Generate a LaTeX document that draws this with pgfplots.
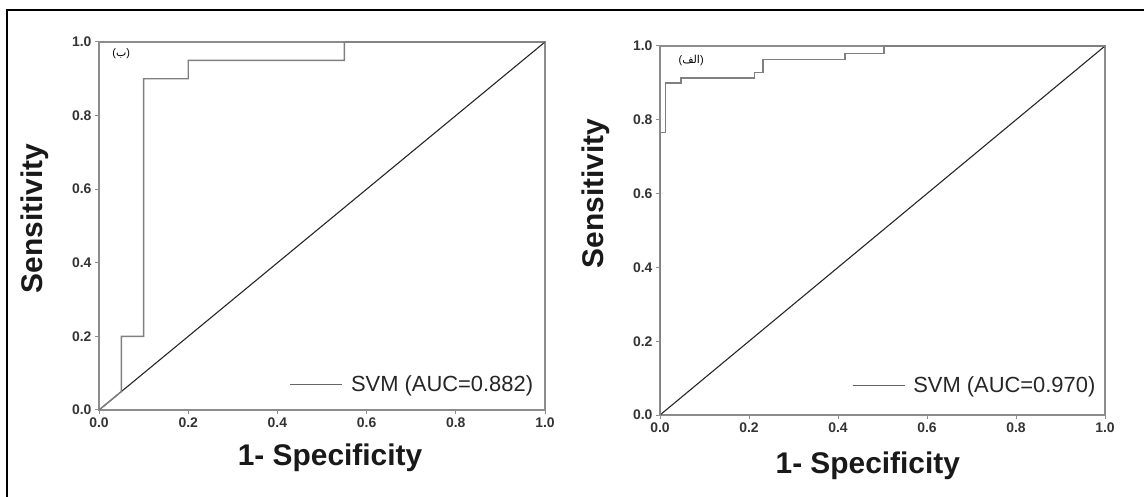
\documentclass[border=0pt]{standalone}
\usepackage{pgfplots}
\pgfplotsset{compat=1.18}
\usepackage{fontspec}
\setmainfont{Liberation Sans}
\newfontfamily\arabicfont[Script=Arabic]{DejaVu Sans}
\TeXXeTstate=1

\definecolor{axgray}{gray}{0.55}
\definecolor{curvegray}{gray}{0.5}

\pgfplotsset{
  rocaxis/.style={
    scale only axis,
    width=446bp, height=368bp,
    xmin=0, xmax=1, ymin=0, ymax=1,
    xtick={0,0.2,...,1.0}, ytick={0,0.2,...,1.0},
    tick pos=left, tick align=outside,
    major tick length=4bp,
    axis line style={axgray, line width=1.3bp},
    tick style={axgray, line width=1bp},
    /pgf/number format/assume math mode=true,
    /pgf/number format/fixed, /pgf/number format/fixed zerofill,
    /pgf/number format/precision=1,
    ticklabel style={font=\fontsize{14}{14}\selectfont\bfseries, text=black!80},
    xlabel={1- Specificity}, ylabel={Sensitivity},
    label style={font=\fontsize{30}{30}\selectfont\bfseries, text=black!90},
    legend style={draw=none, fill=none, anchor=south east,
      font=\fontsize{22}{22}\selectfont, text=black!85},
    legend image code/.code={\draw[#1, black!60] (0bp,0bp) -- (52bp,0bp);
      \path (58bp,0bp);},
  },
}

\begin{document}
\begin{tikzpicture}
\path[use as bounding box] (0,0) rectangle (1144bp,497bp);
\draw[line width=1.6bp, black] (7bp,0bp) -- (7bp,487bp) -- (1144bp,487bp);

% left panel (b)
\begin{axis}[rocaxis,
  at={(99bp,87bp)}, anchor=south west,
  x label style={at={(axis description cs:0.518,-0.13)}, anchor=center},
  y label style={at={(axis description cs:-0.143,0.52)}, anchor=center, rotate=0},
  legend style={at={(axis description cs:0.985,0.035)}},
]
\addplot[forget plot, black!85, line width=1.1bp] coordinates {(0,0) (1,1)};
\addplot[curvegray, line width=1.4bp] coordinates {
  (0,0) (0.05,0.05) (0.05,0.2) (0.1,0.2) (0.1,0.9) (0.2,0.9)
  (0.2,0.95) (0.55,0.95) (0.55,1) (1,1)
};
\addlegendentry{SVM (AUC=0.882)}
\node[font=\fontsize{11}{11}\selectfont, anchor=center] at (axis cs:0.05,0.968)
  {({\arabicfont\beginR ب\endR})};
\end{axis}

% right panel (alef)
\begin{axis}[rocaxis,
  at={(660bp,82bp)}, anchor=south west, width=445bp, height=369bp,
  x label style={at={(axis description cs:0.467,-0.138)}, anchor=center},
  y label style={at={(axis description cs:-0.145,0.60)}, anchor=center, rotate=0},
  legend style={at={(axis description cs:0.99,0.045)}},
]
\addplot[forget plot, black!85, line width=1.1bp] coordinates {(0,0) (1,1)};
\addplot[curvegray, line width=1.4bp] coordinates {
  (0,0) (0,0.766) (0.013,0.766) (0.013,0.90) (0.047,0.90) (0.047,0.913)
  (0.213,0.913) (0.213,0.928) (0.231,0.928) (0.231,0.964) (0.416,0.964)
  (0.416,0.98) (0.503,0.98) (0.503,1) (1,1)
};
\addlegendentry{SVM (AUC=0.970)}
\node[font=\fontsize{11}{11}\selectfont, anchor=center] at (axis cs:0.07,0.962)
  {({\arabicfont\beginR الف\endR})};
\end{axis}
\end{tikzpicture}
\end{document}
